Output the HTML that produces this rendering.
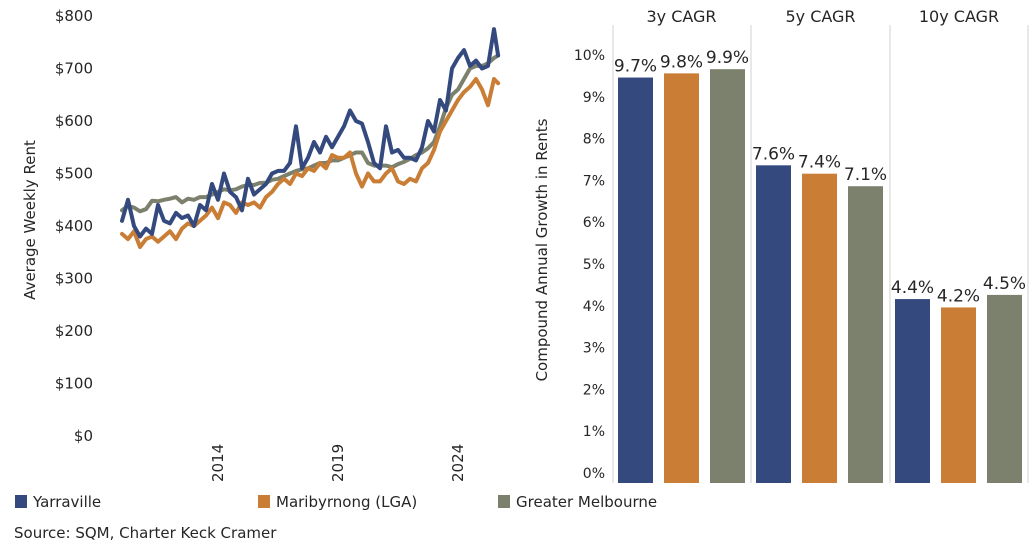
<!DOCTYPE html>
<html><head><meta charset="utf-8">
<style>
html,body{margin:0;padding:0;background:#fff;}
body{width:1032px;height:555px;overflow:hidden;font-family:"DejaVu Sans","Liberation Sans",sans-serif;}
svg text{font-family:"DejaVu Sans","Liberation Sans",sans-serif;fill:#262626;}
</style></head>
<body>
<svg id="chart" width="1032" height="555" viewBox="0 0 1032 555" xmlns="http://www.w3.org/2000/svg"></svg>
<script>
// ---- Line chart data (quarterly from 2010 Q1) ----
const lineStartYear = 2010;
const lineYearLabels = ["2014","2019","2024"];
const rentTicks = [0,100,200,300,400,500,600,700,800];
const yarraville = [410,450,400,380, 395,385,440,410, 405,425,415,420, 400,440,430,480, 450,500,465,455, 430,490,460,470, 480,500,505,505, 520,590,510,530, 560,540,570,550, 570,590,620,600, 595,560,520,510, 590,540,545,530, 530,525,550,600, 580,640,620,700, 720,735,705,715, 700,705,775,725];
const maribyrnong = [385,375,390,360, 375,380,370,380, 390,375,395,405, 400,410,420,435, 415,445,440,425, 445,440,445,435, 455,465,480,490, 480,500,495,510, 505,520,510,535, 530,530,540,500, 475,500,485,485, 500,510,485,480, 490,485,510,520, 545,580,600,620, 640,655,665,680, 660,630,680,672];
const greaterMelb = [430,438,435,428, 432,448,447,450, 452,455,445,452, 450,455,455,460, 465,470,468,470, 475,478,478,482, 482,488,490,495, 500,505,508,510, 515,520,520,525, 525,530,535,540, 540,520,515,515, 515,512,518,522, 528,535,540,548, 560,590,625,650, 660,680,700,705, 705,710,720,725];
// ---- Bar chart data ----
const cagrGroups = ["3y CAGR","5y CAGR","10y CAGR"];
const cagrYarraville = [9.7,7.6,4.4];
const cagrMaribyrnong = [9.8,7.4,4.2];
const cagrGreater = [9.9,7.1,4.5];
const pctTicks = [0,1,2,3,4,5,6,7,8,9,10];

const NS="http://www.w3.org/2000/svg";
const svg=document.getElementById('chart');
function mk(tag,attrs,parent){const e=document.createElementNS(NS,tag);for(const k in attrs)e.setAttribute(k,attrs[k]);(parent||svg).appendChild(e);return e;}
const C={y:"#34497e",m:"#c97d35",g:"#7b816c"};

// Left chart axes
const yL=v=>436-v*0.525;
const xL=t=>122+(t-2010)*24;
rentTicks.forEach(v=>{
  const t=mk('text',{x:93,y:yL(v)+5,'text-anchor':'end','font-size':15});
  t.textContent='$'+v;
  
  
});
lineYearLabels.forEach(l=>{
  const x=xL(+l);
  const t=mk('text',{x:0,y:0,'text-anchor':'start','font-size':15,transform:`translate(${x+5},482) rotate(-90)`});
  t.textContent=l;
  
  
});
const yt=mk('text',{x:0,y:0,'text-anchor':'middle','font-size':15,transform:'translate(35,220) rotate(-90)'});
yt.textContent='Average Weekly Rent';



function drawLine(arr,color,name){
  const n=arr.length;
  const pts=arr.map((v,i)=>{const t=(i<n-1)?lineStartYear+i*0.25:lineStartYear+(n-2)*0.25+0.17;return xL(t).toFixed(1)+','+yL(v).toFixed(1);});
  const p=mk('polyline',{points:pts.join(' '),fill:'none',stroke:color,'stroke-width':4,'stroke-linejoin':'round','stroke-linecap':'round'});
  
  
}
drawLine(greaterMelb,C.g,'greater-melbourne-line');
drawLine(maribyrnong,C.m,'maribyrnong-line');
drawLine(yarraville,C.y,'yarraville-line');

// Right chart
const yR=v=>483-v*41.8;
pctTicks.forEach(v=>{
  const t=mk('text',{x:605,y:yR(v)-5,'text-anchor':'end','font-size':14});
  t.textContent=v+'%';
  
  
});
const yt2=mk('text',{x:0,y:0,'text-anchor':'middle','font-size':15,transform:'translate(547,250) rotate(-90)'});
yt2.textContent='Compound Annual Growth in Rents';


const groupX=[613,751,890];
const groupW=[137,139,138];
[613,751,890,1028].forEach(x=>{
  const l=mk('line',{x1:x,y1:25,x2:x,y2:483,stroke:'#d0d0d0','stroke-width':1});
  
  
});
const series=[[cagrYarraville,C.y,'yarraville'],[cagrMaribyrnong,C.m,'maribyrnong'],[cagrGreater,C.g,'greater-melbourne']];
cagrGroups.forEach((g,gi)=>{
  const gx=groupX[gi];
  const h=mk('text',{x:gx+groupW[gi]/2,y:22,'text-anchor':'middle','font-size':16});
  h.textContent=g;
  
  
  series.forEach((s,si)=>{
    const v=s[0][gi];
    const x=gx+5+si*46;
    const r=mk('rect',{x:x,y:yR(v),width:35,height:483-yR(v),fill:s[1]});
    
    
    const t=mk('text',{x:x+17.5,y:yR(v)-6,'text-anchor':'middle','font-size':17});
    t.textContent=v.toFixed(1)+'%';
    
    
  });
});

// Legend
[[13,'Yarraville',C.y],[256,'Maribyrnong (LGA)',C.m],[496,'Greater Melbourne',C.g]].forEach(l=>{
  const r=mk('rect',{x:l[0]+2,y:495,width:12,height:13,fill:l[2]});
  
  
  const t=mk('text',{x:l[0]+20,y:507,'font-size':15});
  t.textContent=l[1];
  
  
});
const src=mk('text',{x:14,y:538,'font-size':15});
src.textContent='Source: SQM, Charter Keck Cramer';


</script>
</body></html>
